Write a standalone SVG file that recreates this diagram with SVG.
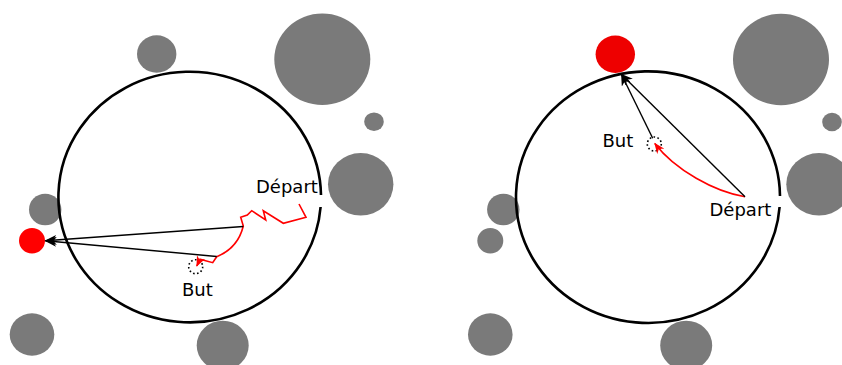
<svg xmlns="http://www.w3.org/2000/svg" width="842" height="365" viewBox="0 0 842 365">
<defs>
<style>
.obs{fill:#7a7a7a}
.bound{fill:none;stroke:#000;stroke-width:2.6}
.lbl{font-family:"DejaVu Sans",sans-serif;font-size:18px;fill:#000}
.goal{fill:none;stroke:#000;stroke-width:1.6;stroke-dasharray:1.6 2.4}
.blk{fill:none;stroke:#000;stroke-width:1.4;marker-end:url(#ab)}
.rd{fill:none;stroke:#f00;stroke-width:1.6;stroke-linejoin:miter;marker-end:url(#ar)}
</style>
<marker id="ab" viewBox="0 0 12 10" refX="11" refY="5" markerWidth="12" markerHeight="10" markerUnits="userSpaceOnUse" orient="auto">
<path d="M0,0 L12,5 L0,10 L3.5,5 z" fill="#000"/>
</marker>
<marker id="ar" viewBox="0 0 12 10" refX="11" refY="5" markerWidth="11" markerHeight="9" markerUnits="userSpaceOnUse" orient="auto">
<path d="M0,0 L12,5 L0,10 L3.5,5 z" fill="#f00"/>
</marker>
</defs>

<g id="left-panel">
<g id="L-obstacles">
<ellipse class="obs" cx="156.7" cy="54" rx="19.7" ry="18.7"/>
<ellipse class="obs" cx="322.3" cy="59.3" rx="48" ry="45.8"/>
<ellipse class="obs" cx="374" cy="121.7" rx="9.8" ry="9.3"/>
<ellipse class="obs" cx="360.7" cy="184.3" rx="32.7" ry="31.3"/>
<ellipse class="obs" cx="45.2" cy="209.5" rx="16.2" ry="15.8"/>
<ellipse class="obs" cx="32" cy="334.5" rx="22.3" ry="21.2"/>
<ellipse class="obs" cx="222.7" cy="345.5" rx="26" ry="24.8"/>
</g>
<g id="L-target"><ellipse cx="32" cy="240.7" rx="13" ry="12.7" fill="#f00"/></g>
<g id="L-boundary"><path class="bound" d="M321,195 A131.3 125.3 0 1 0 320.6,207"/></g>
<g id="L-goal"><circle class="goal" cx="195.7" cy="266.7" r="7"/></g>
<g id="L-labels">
<text class="lbl" x="256" y="193">Départ</text>
<text class="lbl" x="182" y="295.7">But</text>
</g>
</g>

<g id="right-panel">
<g id="R-obstacles">
<ellipse class="obs" cx="781" cy="59.5" rx="48" ry="45.8"/>
<ellipse class="obs" cx="832" cy="122" rx="9.8" ry="9.3"/>
<ellipse class="obs" cx="819" cy="184.3" rx="32.7" ry="31.3"/>
<ellipse class="obs" cx="503.3" cy="209.5" rx="16.2" ry="15.8"/>
<ellipse class="obs" cx="490.3" cy="240.7" rx="13" ry="12.7"/>
<ellipse class="obs" cx="490.3" cy="334.5" rx="22.3" ry="21.2"/>
<ellipse class="obs" cx="686.2" cy="345.5" rx="26" ry="24.8"/>
</g>
<g id="R-target"><ellipse cx="615.3" cy="54.3" rx="19.7" ry="18.7" fill="#e00"/></g>
<g id="R-boundary"><path class="bound" d="M780,196 A132 125.8 0 1 0 779.6,207"/></g>
<g id="R-goal"><circle class="goal" cx="654.3" cy="144" r="7"/></g>
<g id="R-labels">
<text class="lbl" x="602.5" y="146.7">But</text>
<text class="lbl" x="709.5" y="216">Départ</text>
</g>
</g>

<g id="connectors">
<path class="rd" d="M299,204 L306,217.3 L283.3,223.3 L263.3,210.7 L265.7,220 L251.7,210.7 L247.3,215 L240.7,217.3 L243.3,226 Q238,248 216.7,256.7 L212.7,262.7 L200,259.3 L196.8,266"/>
<path class="blk" d="M243.3,226.5 L45.5,240.8"/>
<path class="blk" d="M216.7,256.5 L45.5,240.8"/>
<path class="rd" d="M745,196.7 C715,192 675,170 654.8,143.5"/>
<path class="blk" d="M745,196.7 L621.5,74.5"/>
<path class="blk" d="M652.7,138.3 L621.5,74.5"/>
</g>
</svg>
